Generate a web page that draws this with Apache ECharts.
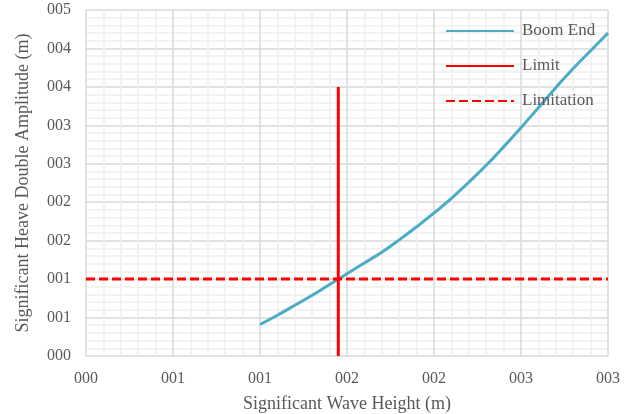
<!DOCTYPE html>
<html>
<head>
<meta charset="utf-8">
<script src="https://cdn.jsdelivr.net/npm/echarts@6/dist/echarts.min.js"></script>
<style>html,body{margin:0;padding:0;background:#fff;overflow:hidden}#c{width:634px;height:414px}</style>
</head>
<body>
<div id="c"></div>
<script>
// Tick labels as shown on the picture
const xTickLabels = ['000','001','001','002','002','003','003'];
const yTickLabels = ['000','001','001','002','002','003','003','004','004','005'];
// Boom End curve (wave height, heave double amplitude)
const boomX = [1.0,1.1,1.2,1.3,1.4,1.45,1.5,1.6,1.7,1.8,1.9,2.0,2.1,2.2,2.3,2.4,2.5,2.6,2.7,2.8,2.9,3.0];
const boomY = [0.41,0.53,0.66,0.79,0.93,1.0,1.07,1.21,1.35,1.51,1.68,1.86,2.05,2.26,2.48,2.72,2.97,3.23,3.49,3.74,3.97,4.20];
// Limit (vertical) and Limitation (horizontal)
const limitX = [1.45,1.45];
const limitY = [0,3.5];
const limitationX = [0,3.0];
const limitationY = [1.0,1.0];

const zip = (a,b) => a.map((v,i)=>[v,b[i]]);
const font = 'Liberation Serif';
const txt = '#595959';

const el = document.getElementById('c');
const chart = echarts.init(el);
chart.setOption({
  animation:false,
  backgroundColor:'#fff',
  grid:{left:86,right:26,top:10,bottom:58,containLabel:false,outerBoundsMode:'none'},
  legend:{
    orient:'vertical',left:440,top:16,
    itemWidth:68,itemHeight:14,itemGap:15,
    itemStyle:{opacity:0},
    textStyle:{fontFamily:font,fontSize:17,color:txt,lineHeight:20,padding:[0,0,0,3]},
    data:['Boom End','Limit','Limitation']
  },
  xAxis:{
    type:'value',min:0,max:3,interval:0.5,
    name:'Significant Wave Height (m)',nameLocation:'middle',nameGap:39,
    nameTextStyle:{fontFamily:font,fontSize:18,color:txt},
    axisLine:{show:false},axisTick:{show:false},
    axisLabel:{fontFamily:font,fontSize:16,color:txt,margin:15,
      formatter:v=>xTickLabels[Math.round(v/0.5)]},
    splitLine:{show:true,lineStyle:{color:'#d9d9d9',width:1.5}},
    minorTick:{show:false,splitNumber:5},
    minorSplitLine:{show:true,lineStyle:{color:'#f0f0f0',width:1.5}}
  },
  yAxis:{
    type:'value',min:0,max:4.5,interval:0.5,
    name:'Significant Heave Double Amplitude (m)',nameLocation:'middle',nameGap:54,
    nameTextStyle:{fontFamily:font,fontSize:18,color:txt},
    axisLine:{show:false},axisTick:{show:false},
    axisLabel:{fontFamily:font,fontSize:16,color:txt,margin:15,
      formatter:v=>yTickLabels[Math.round(v/0.5)]},
    splitLine:{show:true,lineStyle:{color:'#d9d9d9',width:1.5}},
    minorTick:{show:false,splitNumber:5},
    minorSplitLine:{show:true,lineStyle:{color:'#f0f0f0',width:1.5}}
  },
  series:[
    {name:'Boom End',type:'line',data:zip(boomX,boomY),smooth:true,symbol:'none',
     lineStyle:{color:'#4bacc6',width:3},itemStyle:{color:'#4bacc6'}},
    {name:'Limit',type:'line',data:zip(limitX,limitY),symbol:'none',
     lineStyle:{color:'#ff0000',width:3},itemStyle:{color:'#ff0000'}},
    {name:'Limitation',type:'line',data:zip(limitationX,limitationY),symbol:'none',
     lineStyle:{color:'#ff0000',width:3,type:[9,4]},itemStyle:{color:'#ff0000'}}
  ]
});
</script>
</body>
</html>
